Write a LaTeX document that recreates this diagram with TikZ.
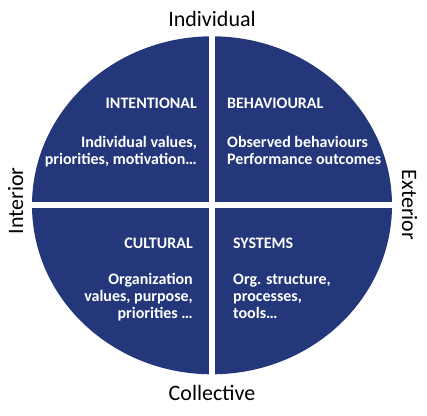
\documentclass[tikz,border=0pt]{standalone}
\usepackage{fontspec}
\setmainfont{Carlito}
\definecolor{quadblue}{RGB}{36,55,122}
\begin{document}
\begin{tikzpicture}[x=1pt,y=-1pt,
  axislabel/.style={inner sep=0pt,font=\fontsize{22}{26}\selectfont,text=black},
  quadtitle/.style={inner sep=0pt,font=\bfseries\fontsize{16}{17}\selectfont,text=white},
  quadbody/.style={inner sep=0pt,font=\bfseries\fontsize{16}{17}\selectfont,text=white}]
\useasboundingbox (0,0) rectangle (427,415);
% circle and gaps
\fill[quadblue] (212,205.3) ellipse [x radius=180, y radius=169];
\fill[white] (209,30) rectangle (215,380);
\fill[white] (25,202.3) rectangle (400,208.3);
% axis labels
\node[axislabel,anchor=base] (ind) at (212,26) {Individual};
\node[axislabel,anchor=base] (col) at (212,400) {Collective};
\node[axislabel,anchor=base,rotate=90] (int) at (23,201) {Interior};
\node[axislabel,anchor=base,rotate=-90] (ext) at (402,205) {Exterior};
% quadrant texts
\node[quadtitle,anchor=base east] (t1) at (197,108) {INTENTIONAL};
\node[quadbody,anchor=base east] (b1a) at (197,147) {Individual values,};
\node[quadbody,anchor=base east] (b1b) at (197,164) {priorities, motivation\ldots};
\node[quadtitle,anchor=base west] (t2) at (227,108) {BEHAVIOURAL};
\node[quadbody,anchor=base west] (b2a) at (227,147) {Observed behaviours};
\node[quadbody,anchor=base west] (b2b) at (227,164) {Performance outcomes};
\node[quadtitle,anchor=base east] (t3) at (193,248) {CULTURAL};
\node[quadbody,anchor=base east] (b3a) at (193,284) {Organization};
\node[quadbody,anchor=base east] (b3b) at (193,301) {values, purpose,};
\node[quadbody,anchor=base east] (b3c) at (193,318) {priorities \ldots};
\node[quadtitle,anchor=base west] (t4) at (233,248) {SYSTEMS};
\node[quadbody,anchor=base west] (b4a) at (233,284) {Org. structure,};
\node[quadbody,anchor=base west] (b4b) at (233,301) {processes,};
\node[quadbody,anchor=base west] (b4c) at (233,318) {tools\ldots};
\end{tikzpicture}
\end{document}
